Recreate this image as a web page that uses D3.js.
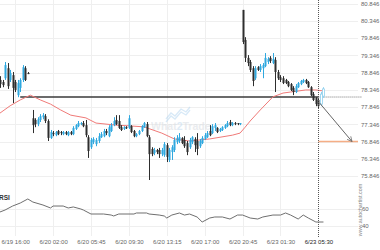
<!DOCTYPE html>
<html>
<head>
<meta charset="utf-8">
<script src="https://cdn.jsdelivr.net/npm/d3@7"></script>
<style>
  body { margin: 0; background: #fff; }
  svg { display: block; font-family: "Liberation Sans", Arial, sans-serif; }
</style>
</head>
<body>
<div id="chart"></div>
<script>
// candles, one per 15 minutes (index based axis), null = no candle
var opens = [
  78.63, 78.57, 78.68, 78.97, 78.63, 78.77, 78.57, 78.19, 78.40, 78.63,
  78.97, 78.83, null, 77.52, 77.47, 77.35, 77.47, 77.55, 77.58, 77.44,
  76.95, 77.09, 77.03, 77.15, 77.12, 77.06, 77.12, 77.03, 77.12, 77.06,
  77.21, 77.29, 77.35, 77.38, 77.32, 76.97, 76.68, 76.83, 76.77, 76.86,
  76.97, 77.00, 77.15, 77.00, 77.15, 77.32, 77.47, 77.44, 77.26, 77.21,
  77.26, 77.24, 77.29, 77.15, 77.00, 77.06, 77.15, 77.26, 77.35, 76.97,
  76.63, 76.51, 76.60, 76.60, 76.48, 76.45, 76.74, 76.31, 76.54, 76.60,
  76.83, 76.86, 76.95, 76.89, 76.80, 76.68, 76.83, 76.92, 76.86, 76.71,
  76.80, 76.92, 76.97, 77.15, 77.09, 77.24, 77.24, 77.15, 77.18, 77.24,
  77.29, 77.41, 77.32, 77.38, 77.38, 77.35, 80.66, 79.79, 79.27, 79.15,
  78.97, 78.68, 79.00, 78.92, 78.97, 79.03, 79.15, 79.27, 79.12, 79.21,
  78.86, 78.71, 78.68, 78.63, 78.57, 78.51, 78.40, 78.28, 78.42, 78.51,
  78.57, 78.63, 78.57, 78.42, 78.22, 78.11, 78.05, 77.93, 78.16
];
var highs = [
  78.74, 78.63, 79.15, 79.12, 78.92, 78.86, 78.63, 78.63, 78.68, 79.06,
  79.03, 78.86, null, 77.76, 77.52, 77.55, 77.64, 77.67, 77.64, 77.49,
  77.18, 77.15, 77.15, 77.18, 77.15, 77.15, 77.15, 77.15, 77.15, 77.29,
  77.35, 77.44, 77.41, 77.44, 77.47, 77.03, 76.95, 76.97, 76.95, 77.09,
  77.12, 77.21, 77.21, 77.32, 77.38, 77.55, 77.61, 77.61, 77.32, 77.29,
  77.29, 77.61, 77.32, 77.18, 77.09, 77.18, 77.32, 77.41, 77.41, 77.03,
  76.68, 76.66, 76.63, 76.66, 76.66, 76.83, 76.80, 76.66, 76.74, 76.97,
  77.03, 77.09, 76.97, 77.00, 76.86, 76.95, 77.00, 76.97, 77.09, 76.92,
  77.00, 77.09, 77.15, 77.32, 77.35, 77.38, 77.26, 77.24, 77.29, 77.35,
  77.44, 77.47, 77.41, 77.41, 77.38, 77.38, 80.66, 79.87, 79.35, 79.21,
  79.03, 79.03, 79.03, 79.09, 79.12, 79.41, 79.29, 79.32, 79.41, 79.29,
  78.92, 78.77, 78.74, 78.66, 78.60, 78.54, 78.45, 78.51, 78.57, 78.63,
  78.66, 78.66, 78.60, 78.45, 78.28, 78.13, 78.11, 78.28, 78.42
];
var lows = [
  78.40, 78.42, 78.63, 78.37, 78.57, 77.96, 78.28, 78.13, 78.28, 78.57,
  78.60, 78.80, null, 77.09, 77.26, 77.29, 77.41, 77.49, 77.38, 76.86,
  76.92, 77.00, 77.00, 77.03, 77.03, 77.03, 77.03, 77.00, 77.03, 77.03,
  77.18, 77.26, 77.32, 77.26, 76.97, 76.37, 76.63, 76.77, 76.71, 76.80,
  76.95, 76.97, 77.03, 76.97, 77.12, 77.29, 77.32, 77.21, 77.15, 77.18,
  77.21, 77.21, 77.09, 76.97, 76.97, 77.03, 77.12, 77.24, 76.97, 75.73,
  76.42, 76.45, 76.48, 76.37, 76.42, 76.40, 76.25, 76.25, 76.31, 76.54,
  76.77, 76.80, 76.77, 76.66, 76.45, 76.63, 76.77, 76.54, 76.45, 76.66,
  76.77, 76.89, 76.95, 77.00, 77.06, 77.15, 77.09, 77.12, 77.15, 77.21,
  77.26, 77.29, 77.29, 77.32, 77.32, 77.32, 79.67, 79.15, 79.03, 78.86,
  78.45, 78.63, 78.89, 78.86, 78.68, 79.00, 79.09, 79.12, 79.09, 78.28,
  78.63, 78.57, 78.51, 78.51, 78.42, 78.31, 78.19, 78.25, 78.40, 78.48,
  78.54, 78.51, 78.40, 78.16, 78.02, 77.87, 77.81, 77.87, 78.11
];
var closes = [
  78.51, 78.48, 79.06, 78.45, 78.83, 78.40, 78.34, 78.54, 78.63, 79.00,
  78.63, 78.80, null, 77.32, 77.35, 77.49, 77.58, 77.61, 77.44, 76.95,
  77.12, 77.06, 77.12, 77.06, 77.09, 77.12, 77.06, 77.12, 77.06, 77.24,
  77.32, 77.38, 77.38, 77.29, 77.03, 76.57, 76.89, 76.92, 76.89, 77.00,
  77.06, 77.15, 77.09, 77.26, 77.32, 77.44, 77.35, 77.24, 77.18, 77.26,
  77.24, 77.52, 77.12, 77.00, 77.06, 77.15, 77.29, 77.38, 77.00, 76.48,
  76.48, 76.60, 76.54, 76.48, 76.60, 76.77, 76.40, 76.60, 76.68, 76.89,
  76.95, 76.97, 76.80, 76.71, 76.54, 76.89, 76.97, 76.74, 76.63, 76.86,
  76.95, 77.03, 77.09, 77.03, 77.29, 77.32, 77.12, 77.21, 77.26, 77.32,
  77.38, 77.32, 77.38, 77.35, 77.35, 77.38, 79.73, 79.27, 79.12, 78.92,
  78.60, 78.97, 78.92, 79.03, 79.06, 79.27, 79.24, 79.18, 79.24, 78.86,
  78.68, 78.63, 78.54, 78.54, 78.45, 78.34, 78.28, 78.45, 78.54, 78.60,
  78.63, 78.54, 78.42, 78.19, 78.05, 77.93, 77.87, 78.22, 78.37
];

// moving average (red line)
var maIdx = [0, 4, 8, 12, 16, 20, 24, 28, 34, 38, 46, 51, 57, 64, 69, 75, 83, 92, 95, 97, 99, 103, 108, 112, 115, 121, 125, 128];
var maVal = [77.67, 77.88, 78.05, 78.19, 78.05, 77.93, 77.76, 77.61, 77.53, 77.38, 77.32, 77.30, 77.27, 77.09, 76.92, 76.86, 76.92, 77.03, 77.09, 77.26, 77.44, 77.76, 78.14, 78.25, 78.28, 78.34, 78.34, 78.31];

// RSI pane
var rsiIdx = [0, 2, 5, 8, 11, 13, 17, 20, 21, 25, 27, 29, 32, 33, 36, 41, 44, 45, 47, 53, 54, 58, 59, 63, 65, 66, 68, 71, 73, 75, 78, 80, 83, 85, 88, 91, 94, 96, 99, 102, 104, 108, 111, 113, 115, 118, 120, 122, 125, 126, 128];
var rsiVal = [56.5, 58.8, 63.5, 67, 71.8, 68.2, 64.7, 61.2, 63.5, 63.5, 61.2, 62.4, 60, 58.8, 54.1, 54.1, 52.9, 51.8, 54.1, 54.1, 55.3, 55.3, 54.1, 52.9, 51.8, 49.4, 52.9, 55.3, 52.9, 54.1, 50.6, 44.7, 49.4, 50.6, 50.6, 48.2, 52.9, 52.9, 49.4, 48.2, 50.6, 52.9, 52.9, 55.3, 52.9, 48.2, 52.9, 49.4, 44.7, 44.7, 44.7];

var priceTicks = [80.846, 80.346, 79.846, 79.346, 78.846, 78.346, 77.846, 77.346, 76.846, 76.346, 75.846];
var rsiTicks = [60, 40];
var timeIdx = [6, 21, 36, 51, 66, 81, 96, 111, 126];
var timeLabels = ["6/19 16:00", "6/20 02:00", "6/20 05:45", "6/20 09:30", "6/20 13:15", "6/20 17:00", "6/20 20:45", "6/23 01:30", "6/23 05:30"];

var levelPrice = 78.135;   // resistance / support line
var levelFrom = 8;
var nowIdx = 126;          // last complete candle
var arrowFrom = [126.5, 77.96];
var arrowTo = [139.3, 76.846];
var targetPrice = 76.846;

var width = 380, height = 250;
var plotRight = 358;

var svg = d3.select("#chart").append("svg")
    .attr("width", width)
    .attr("height", height);

var x = d3.scaleLinear().domain([0, 126]).range([0, 318.4]);
var y = d3.scaleLinear().domain([75.846, 80.846]).range([176, 3.5]);
var yRsi = d3.scaleLinear().domain([40, 60]).range([226, 209]);

// grid
var grid = svg.append("g").attr("stroke", "#efefef").attr("stroke-width", 1);
grid.selectAll("line.h").data(priceTicks).enter().append("line")
    .attr("x1", 0).attr("x2", plotRight)
    .attr("y1", function(d) { return Math.round(y(d)) + 0.5; })
    .attr("y2", function(d) { return Math.round(y(d)) + 0.5; });
grid.selectAll("line.r").data(rsiTicks).enter().append("line")
    .attr("x1", 0).attr("x2", plotRight)
    .attr("y1", function(d) { return Math.round(yRsi(d)) + 0.5; })
    .attr("y2", function(d) { return Math.round(yRsi(d)) + 0.5; });
grid.selectAll("line.v").data(timeIdx.slice(0, -1)).enter().append("line")
    .attr("y1", 0).attr("y2", 236)
    .attr("x1", function(d) { return Math.round(x(d)) + 0.5; })
    .attr("x2", function(d) { return Math.round(x(d)) + 0.5; });

// watermark
var wm = svg.append("g").attr("opacity", 0.55);
wm.append("polyline")
    .attr("points", "166,119 171,113 175,116 181,109 186,112 190,107")
    .attr("fill", "none").attr("stroke", "#b8d8f2").attr("stroke-width", 1.3);
wm.append("polyline")
    .attr("points", "166,122 171,116 175,119 181,112 186,115 190,110")
    .attr("fill", "none").attr("stroke", "#b8d8f2").attr("stroke-width", 1.3);
var wmText = wm.append("text")
    .attr("x", 151).attr("y", 130)
    .attr("font-size", 10.5).attr("font-weight", "bold")
    .attr("fill", "#d9dde2");
wmText.append("tspan").text("What");
wmText.append("tspan").attr("fill", "#c5dcef").text("2");
wmText.append("tspan").text("Trade");

// level line
svg.append("line")
    .attr("x1", x(levelFrom)).attr("x2", x(nowIdx))
    .attr("y1", y(levelPrice)).attr("y2", y(levelPrice))
    .attr("stroke", "#3a3a3a").attr("stroke-width", 1.4);
svg.append("line")
    .attr("x1", x(nowIdx)).attr("x2", 362)
    .attr("y1", y(levelPrice)).attr("y2", y(levelPrice))
    .attr("stroke", "#777").attr("stroke-width", 1)
    .attr("stroke-dasharray", "1,1");

// moving average
var maLine = d3.line()
    .x(function(d, i) { return x(maIdx[i]); })
    .y(function(d) { return y(d); });
svg.append("path")
    .attr("d", maLine(maVal))
    .attr("fill", "none")
    .attr("stroke", "#f07a78")
    .attr("stroke-width", 1);

// candles
var idx = d3.range(opens.length).filter(function(i) { return opens[i] != null; });
var bull = "#2fa8df", bear = "#2e2e2e", hollow = "#8fd0ee";
function candleColor(i) {
  if (i > nowIdx) return hollow;
  return closes[i] >= opens[i] ? bull : bear;
}
var candles = svg.append("g").selectAll("g").data(idx).enter().append("g");
candles.append("line")
    .attr("x1", function(i) { return Math.round(x(i)) + 0.5; })
    .attr("x2", function(i) { return Math.round(x(i)) + 0.5; })
    .attr("y1", function(i) { return y(highs[i]); })
    .attr("y2", function(i) { return y(lows[i]); })
    .attr("stroke", candleColor)
    .attr("stroke-width", 1);
candles.append("rect")
    .attr("x", function(i) { return Math.round(x(i)) - 0.5; })
    .attr("width", 2)
    .attr("y", function(i) { return y(Math.max(opens[i], closes[i])); })
    .attr("height", function(i) { return Math.max(1, Math.abs(y(opens[i]) - y(closes[i]))); })
    .attr("fill", function(i) { return i > nowIdx ? "#fff" : candleColor(i); })
    .attr("stroke", function(i) { return i > nowIdx ? hollow : "none"; })
    .attr("stroke-width", 0.8);

// now line
svg.append("line")
    .attr("x1", Math.round(x(nowIdx)) + 0.5).attr("x2", Math.round(x(nowIdx)) + 0.5)
    .attr("y1", 0).attr("y2", 238)
    .attr("stroke", "#555").attr("stroke-width", 1)
    .attr("stroke-dasharray", "1,1");

// forecast
svg.append("line")
    .attr("x1", x(nowIdx)).attr("x2", plotRight)
    .attr("y1", y(targetPrice)).attr("y2", y(targetPrice))
    .attr("stroke", "#f5ae86").attr("stroke-width", 1.5);

svg.append("defs").append("marker")
    .attr("id", "arrow")
    .attr("viewBox", "0 0 10 10")
    .attr("refX", 9).attr("refY", 5)
    .attr("markerWidth", 6).attr("markerHeight", 6)
    .attr("orient", "auto")
  .append("path")
    .attr("d", "M1,1 L9,5 L1,9")
    .attr("fill", "none").attr("stroke", "#666").attr("stroke-width", 1.2);
svg.append("line")
    .attr("x1", x(arrowFrom[0])).attr("y1", y(arrowFrom[1]))
    .attr("x2", x(arrowTo[0])).attr("y2", y(arrowTo[1]))
    .attr("stroke", "#666").attr("stroke-width", 1)
    .attr("marker-end", "url(#arrow)");

// RSI
var rsiLine = d3.line()
    .x(function(d, i) { return x(rsiIdx[i]); })
    .y(function(d) { return yRsi(d); });
svg.append("path")
    .attr("d", rsiLine(rsiVal))
    .attr("fill", "none")
    .attr("stroke", "#6f6f6f")
    .attr("stroke-width", 1);
svg.append("text")
    .attr("x", -1).attr("y", 200)
    .attr("font-size", 6.5).attr("font-weight", "bold")
    .attr("fill", "#333")
    .text("RSI");

// axes
function styleAxis(g) {
  g.select(".domain").remove();
  g.selectAll(".tick line").remove();
  g.selectAll(".tick text").attr("fill", "#666").attr("font-size", 6)
    .attr("font-family", "Liberation Sans, Arial, sans-serif");
}
svg.append("g")
    .attr("transform", "translate(361,0)")
    .call(d3.axisRight(y).tickValues(priceTicks).tickFormat(d3.format(".3f")).tickSize(0).tickPadding(0))
    .call(styleAxis);
svg.append("g")
    .attr("transform", "translate(361,0)")
    .call(d3.axisRight(yRsi).tickValues(rsiTicks).tickSize(0).tickPadding(1))
    .call(styleAxis);
var xAxis = svg.append("g")
    .attr("transform", "translate(0,238)")
    .call(d3.axisBottom(x).tickValues(timeIdx)
      .tickFormat(function(d, i) { return timeLabels[i]; })
      .tickSize(0).tickPadding(2))
    .call(styleAxis);
xAxis.selectAll(".tick text")
    .filter(function(d) { return d === nowIdx; })
    .attr("fill", "#222");

svg.append("text")
    .attr("transform", "translate(361.5,210) rotate(-90)")
    .attr("text-anchor", "middle")
    .attr("font-size", 5.4)
    .attr("fill", "#888")
    .text("www.autochartist.com");
</script>
</body>
</html>
